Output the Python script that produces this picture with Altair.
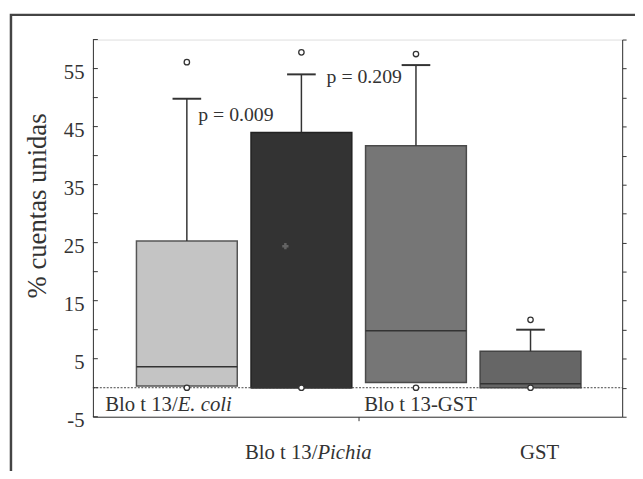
import altair as alt
import pandas as pd

# ---- data ----
groups = ["Blo t 13/E. coli", "Blo t 13/Pichia", "Blo t 13-GST", "GST"]
positions = [1, 2, 3, 4]
q1 = [0.3, 0.0, 0.9, 0.0]
median = [3.6, 0.0, 9.8, 0.7]
q3 = [25.3, 44.0, 41.7, 6.3]
whisker_hi = [49.8, 54.0, 55.6, 10.0]
outlier_hi = [56.1, 57.8, 57.5, 11.7]
outlier_lo = [0.0, 0.0, 0.0, 0.0]
mean_pichia = 24.4
fills = ["#c4c4c4", "#333333", "#767676", "#666666"]
strokes = ["#555555", "#222222", "#4a4a4a", "#444444"]

p_texts = ["p = 0.009", "p = 0.209"]
p_x = [1.10, 2.22]
p_y = [47.0, 53.5]

y_ticks = list(range(-5, 61, 5))

FONT = "Liberation Serif"
W, H = 536, 382
half = 0.44
cap = 0.125

box = pd.DataFrame({
    "group": groups, "pos": positions, "q1": q1, "median": median, "q3": q3,
    "whi": whisker_hi, "fill": fills, "stroke": strokes,
})
box["x1"] = box["pos"] - half
box["x2"] = box["pos"] + half
box["c1"] = box["pos"] - cap
box["c2"] = box["pos"] + cap

pts = pd.DataFrame({
    "pos": positions * 2,
    "v": outlier_hi + outlier_lo,
})

xs = alt.Scale(domain=[0.18, 4.80], nice=False, zero=False)
ys = alt.Scale(domain=[-5, 60], nice=False, zero=False)

left_axis = alt.Axis(
    values=y_ticks,
    labelExpr="datum.value % 10 != 0 ? toString(datum.value) : ''",
    title="% cuentas unidas", titleFont=FONT, titleFontSize=27,
    titleFontWeight="normal", titleColor="#333", titlePadding=12,
    titleY=168,
    labelFont=FONT, labelFontSize=21, labelColor="#333", labelPadding=9,
    labelOffset=4,
    tickSize=0, domainColor="#333", grid=False,
)
right_axis = alt.Axis(
    values=y_ticks, labels=False, title=None, orient="right",
    tickSize=4, tickColor="#333", domainColor="#333", grid=False,
)
x_axis = alt.Axis(values=[2.5], labels=False, title=None, tickSize=4,
                  tickColor="#333", domainColor="#333", grid=False)

base = alt.Chart(box)

frame = alt.Chart(pd.DataFrame({"a": [0]})).mark_rect(
    fill=None, stroke="#444", strokeWidth=2.5, clip=False
).encode(x=alt.value(-83), x2=alt.value(620), y=alt.value(-25), y2=alt.value(520))

zero_line = alt.Chart(pd.DataFrame({"z": [0.0]})).mark_rule(
    color="#444", strokeDash=[2, 1.5], strokeWidth=1
).encode(y=alt.Y("z:Q", scale=ys, axis=left_axis), x=alt.value(0), x2=alt.value(W))

left_ticks = alt.Chart(pd.DataFrame({"t": y_ticks})).mark_rule(
    color="#333", strokeWidth=1
).encode(y=alt.Y("t:Q", scale=ys), x=alt.value(0), x2=alt.value(5))

rects = base.mark_rect(strokeWidth=1.5).encode(
    x=alt.X("x1:Q", scale=xs, axis=x_axis),
    x2="x2:Q",
    y=alt.Y("q1:Q", scale=ys),
    y2="q3:Q",
    fill=alt.Fill("fill:N", scale=None),
    stroke=alt.Stroke("stroke:N", scale=None),
)

medians = base.mark_rule(strokeWidth=1.5, color="#333").encode(
    x=alt.X("x1:Q", scale=xs), x2="x2:Q", y=alt.Y("median:Q", scale=ys)
)

whiskers = base.mark_rule(strokeWidth=1.5, color="#333").encode(
    x=alt.X("pos:Q", scale=xs), y=alt.Y("q3:Q", scale=ys), y2="whi:Q"
)
caps = base.mark_rule(strokeWidth=2, color="#333").encode(
    x=alt.X("c1:Q", scale=xs), x2="c2:Q", y=alt.Y("whi:Q", scale=ys)
)

outliers = alt.Chart(pts).mark_point(
    shape="circle", size=30, filled=True, fill="white", stroke="#333",
    strokeWidth=1.3, opacity=1
).encode(x=alt.X("pos:Q", scale=xs), y=alt.Y("v:Q", scale=ys))

mean_mark = alt.Chart(pd.DataFrame({"pos": [1.86], "v": [mean_pichia]})).mark_point(
    shape="cross", size=40, filled=True, color="#777777", opacity=0.7
).encode(x=alt.X("pos:Q", scale=xs), y=alt.Y("v:Q", scale=ys))

ptext = alt.Chart(pd.DataFrame({"t": p_texts, "x": p_x, "y": p_y})).mark_text(
    font=FONT, fontSize=20, align="left", baseline="middle", color="#333"
).encode(x=alt.X("x:Q", scale=xs), y=alt.Y("y:Q", scale=ys), text="t:N")

# category labels (normal + italic parts)
lab_norm_r = pd.DataFrame({"t": ["Blo t 13/", "Blo t 13/"], "x": [0.92, 2.14], "y": [-3.0, -11.3]})
lab_ital = pd.DataFrame({"t": ["E. coli", "Pichia"], "x": [0.92, 2.14], "y": [-3.0, -11.3]})
lab_center = pd.DataFrame({"t": ["Blo t 13-GST", "GST"], "x": [3.04, 4.08], "y": [-3.0, -11.3]})

t1 = alt.Chart(lab_norm_r).mark_text(font=FONT, fontSize=21, align="right", baseline="middle", color="#333").encode(
    x=alt.X("x:Q", scale=xs), y=alt.Y("y:Q", scale=ys), text="t:N")
t2 = alt.Chart(lab_ital).mark_text(font=FONT, fontSize=21, fontStyle="italic", align="left", baseline="middle", color="#333").encode(
    x=alt.X("x:Q", scale=xs), y=alt.Y("y:Q", scale=ys), text="t:N")
t3 = alt.Chart(lab_center).mark_text(font=FONT, fontSize=21, align="center", baseline="middle", color="#333").encode(
    x=alt.X("x:Q", scale=xs), y=alt.Y("y:Q", scale=ys), text="t:N")

right = alt.Chart(pd.DataFrame({"z": [0.0]})).mark_rule(opacity=0).encode(
    y=alt.Y("z:Q", scale=ys, axis=right_axis)
)

main = alt.layer(zero_line, left_ticks, rects, medians, whiskers, caps, outliers,
                 mean_mark, ptext, t1, t2, t3, frame)

chart = alt.layer(main, right).resolve_axis(y="independent").properties(
    width=W, height=H,
    autosize=alt.AutoSizeParams(type="none"),
    padding={"left": 86, "top": 29, "right": 13, "bottom": 52},
).configure_view(stroke=None).configure(
    background="white", font=FONT
).configure_axis(labelFont=FONT, titleFont=FONT).configure_text(font=FONT)

chart.save("out.html", embed_options={"renderer": "svg", "actions": False})
